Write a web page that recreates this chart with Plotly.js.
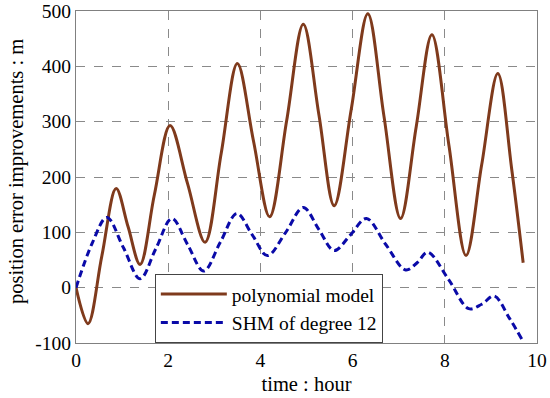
<!DOCTYPE html>
<html><head><meta charset="utf-8">
<script src="https://cdn.plot.ly/plotly-3.0.1.min.js"></script>
<style>html,body{margin:0;padding:0;background:#fff}#chart{width:550px;height:398px}</style>
</head><body><div id="chart"></div>
<script>
const polyX = [0, 0.26, 0.56, 0.87, 1.13, 1.39, 1.7, 2.04, 2.42, 2.8, 3.15, 3.5, 3.85, 4.2, 4.57, 4.93, 5.27, 5.6, 5.97, 6.33, 6.68, 7.04, 7.38, 7.72, 8.09, 8.46, 8.8, 9.15, 9.45, 9.7];
const polyY = [0, -65, 57, 179, 110, 42, 168, 293, 188, 82, 243, 405, 265, 128, 302, 476, 312, 148, 322, 495, 310, 125, 291, 457, 257, 58, 222, 387, 215, 45];
const shmX = [0, 0.35, 0.67, 1.03, 1.39, 1.73, 2.08, 2.42, 2.77, 3.13, 3.49, 3.82, 4.15, 4.55, 4.93, 5.27, 5.6, 5.95, 6.3, 6.72, 7.15, 7.4, 7.63, 8.08, 8.52, 8.8, 9.07, 9.4, 9.67];
const shmY = [0, 80, 127, 72, 16, 70, 125, 78, 30, 82, 134, 96, 58, 100, 145, 105, 67, 95, 125, 78, 32, 45, 64, 15, -38, -30, -15, -55, -93];
const xTicks = [0, 2, 4, 6, 8, 10];
const yTicks = [-100, 0, 100, 200, 300, 400, 500];

const fam = '"Liberation Serif", "Times New Roman", serif';
const font = {family: fam, size: 19.5, color: '#000'};
const titleFont = {family: fam, size: 20.5, color: '#000'};
const traces = [
  {x: polyX, y: polyY, mode: 'lines', name: 'polynomial model',
   line: {color: '#7f3a1c', width: 3, shape: 'spline', smoothing: 1}},
  {x: shmX, y: shmY, mode: 'lines', name: 'SHM of degree 12',
   line: {color: '#0a0aa8', width: 3, dash: '7px,4px', shape: 'spline', smoothing: 1}}
];
const axisCommon = {showline: true, mirror: true, linecolor: '#808080', linewidth: 1,
  showgrid: true, gridcolor: '#8a8a8a', griddash: 'dash', gridwidth: 1,
  zeroline: false, ticks: '', tickfont: font, automargin: false};
const layout = {
  width: 550, height: 398,
  margin: {l: 76, r: 13, t: 11, b: 55},
  paper_bgcolor: '#fff', plot_bgcolor: '#fff',
  font: font,
  showlegend: true,
  legend: {x: 0.171, y: 0.208, xanchor: 'left', yanchor: 'top', bgcolor: '#fff',
    bordercolor: '#444', borderwidth: 1, font: font, tracegroupgap: 0, itemwidth: 66},
  xaxis: Object.assign({}, axisCommon, {range: [0, 10], tickvals: xTicks, ticktext: xTicks.map(String),
    title: {text: 'time : hour', font: titleFont, standoff: 6}}),
  yaxis: Object.assign({}, axisCommon, {range: [-100, 500], tickvals: yTicks, ticktext: yTicks.map(v => v < 0 ? '-' + Math.abs(v) : String(v))}),
  annotations: [{text: 'position error improvements : m', xref: 'paper', yref: 'paper',
    x: -0.130, y: 0.515, xanchor: 'center', yanchor: 'middle', textangle: -90,
    showarrow: false, font: titleFont}]
};
Plotly.newPlot('chart', traces, layout, {staticPlot: true, displayModeBar: false});
</script></body></html>
